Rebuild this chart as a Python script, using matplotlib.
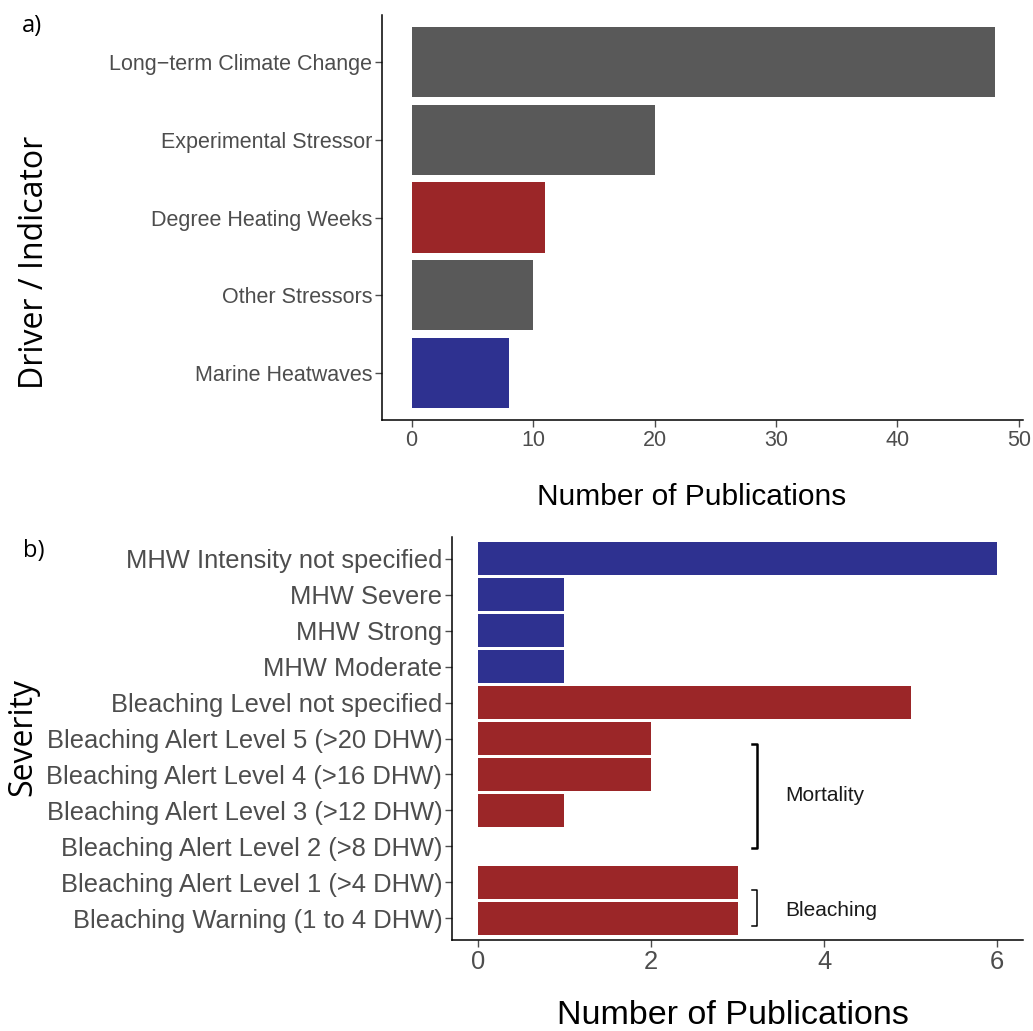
import numpy as np
import matplotlib
matplotlib.use("Agg")
from matplotlib import pyplot as plt

plt.rcParams['font.family'] = ['Liberation Sans', 'DejaVu Sans']

# panel a data
drivers = ["Long\u2212term Climate Change", "Experimental Stressor", "Degree Heating Weeks",
           "Other Stressors", "Marine Heatwaves"]
driver_counts = [48, 20, 11, 10, 8]
driver_groups = ["other", "other", "dhw", "other", "mhw"]

# panel b data
severity = ["MHW Intensity not specified", "MHW Severe", "MHW Strong", "MHW Moderate",
            "Bleaching Level not specified", "Bleaching Alert Level 5 (>20 DHW)",
            "Bleaching Alert Level 4 (>16 DHW)", "Bleaching Alert Level 3 (>12 DHW)",
            "Bleaching Alert Level 2 (>8 DHW)", "Bleaching Alert Level 1 (>4 DHW)",
            "Bleaching Warning (1 to 4 DHW)"]
severity_counts = [6, 1, 1, 1, 5, 2, 2, 1, 0, 3, 3]
severity_groups = ["mhw"] * 4 + ["dhw"] * 7

colors = {"other": "#595959", "dhw": "#9b2628", "mhw": "#2e3190"}
tick_gray = "#4d4d4d"

W, H = 1033, 1031
fig = plt.figure(figsize=(W / 100, H / 100), dpi=100)

def fx(px):
    return px / W

def fy(py):
    return 1 - py / H

def style(ax, fs):
    for s in ["top", "right"]:
        ax.spines[s].set_visible(False)
    for s in ["left", "bottom"]:
        ax.spines[s].set_linewidth(1.1)
        ax.spines[s].set_color("black")
    ax.tick_params(axis="both", colors=tick_gray, labelcolor=tick_gray, labelsize=fs,
                   length=5, width=1.0, pad=2)

# ---- panel a
axa = fig.add_axes([fx(382), fy(420), fx(1023 - 382), (420 - 15) / H])
ya = np.arange(len(drivers))
axa.barh(ya, driver_counts, height=0.9, color=[colors[g] for g in driver_groups])
axa.set_yticks(ya)
axa.set_yticklabels(drivers)
axa.set_ylim(len(drivers) - 0.4, -0.6)
axa.set_xlim(-2.43, 50.33)
axa.set_xticks([0, 10, 20, 30, 40, 50])
style(axa, 15.5)

# ---- panel b
axb = fig.add_axes([fx(452), fy(940), fx(1023 - 452), (940 - 537) / H])
yb = np.arange(len(severity))
axb.barh(yb, severity_counts, height=0.9, color=[colors[g] for g in severity_groups])
axb.set_yticks(yb)
axb.set_yticklabels(severity)
axb.set_ylim(len(severity) - 0.4, -0.6)
axb.set_xlim(-0.3, 6.3)
axb.set_xticks([0, 2, 4, 6])
style(axb, 18.4)

# brackets
bx = 3.23
axb.plot([bx - 0.06, bx, bx, bx - 0.06], [5.14, 5.14, 8.03, 8.03], color="black",
         lw=1.8, solid_capstyle="projecting", clip_on=False)
axb.plot([bx - 0.06, bx, bx, bx - 0.06], [9.2, 9.2, 10.2, 10.2], color="black",
         lw=1.1, clip_on=False)
axb.text(3.55, 6.58, "Mortality", fontsize=15, color="#1a1a1a", va="center", ha="left")
axb.text(3.55, 9.78, "Bleaching", fontsize=15, color="#1a1a1a", va="center", ha="left")

# titles
fig.text(fx(692), fy(497), "Number of Publications", fontsize=21.5, ha="center", va="center")
fig.text(fx(733), fy(1015), "Number of Publications", fontsize=24.5, ha="center", va="center")
fig.text(fx(35), fy(262), "Driver / Indicator", fontsize=23, rotation=90, ha="center",
         va="center", family=["Open Sans", "DejaVu Sans"])
fig.text(fx(23), fy(737), "Severity", fontsize=23, rotation=90, ha="center", va="center",
         family=["Open Sans", "DejaVu Sans"])
fig.text(fx(22), fy(26), "a)", fontsize=17, ha="left", va="center",
         family=["Open Sans", "DejaVu Sans"])
fig.text(fx(23), fy(551), "b)", fontsize=17, ha="left", va="center",
         family=["Open Sans", "DejaVu Sans"])

fig.savefig("out.png", dpi=100, facecolor="white")
